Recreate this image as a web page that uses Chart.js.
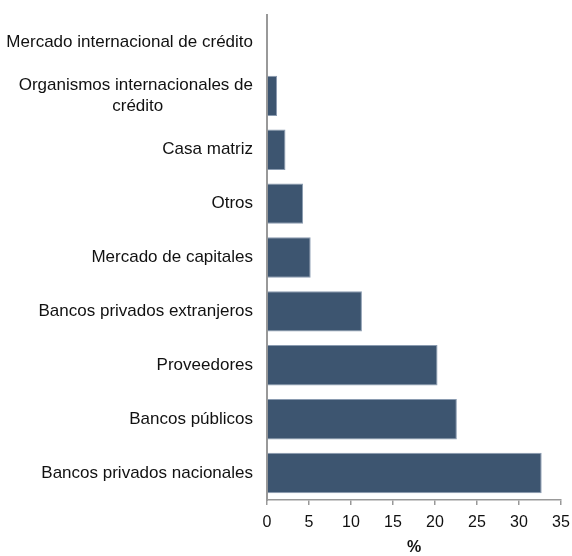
<!DOCTYPE html>
<html>
<head>
<meta charset="utf-8">
<script src="https://cdn.jsdelivr.net/npm/chart.js@4/dist/chart.umd.min.js"></script>
<style>
  html, body { margin: 0; padding: 0; background: #fff; }
  #wrap { width: 572px; height: 556px; }
</style>
</head>
<body>
<div id="wrap"><canvas id="fuentesChart" width="572" height="556"></canvas></div>
<script>
// categories, top to bottom
var categorias = [
  "Mercado internacional de crédito",
  ["Organismos internacionales de", "crédito                   "],
  "Casa matriz",
  "Otros",
  "Mercado de capitales",
  "Bancos privados extranjeros",
  "Proveedores",
  "Bancos públicos",
  "Bancos privados nacionales"
];
var porcentajes = [0, 1.2, 2.2, 4.3, 5.2, 11.3, 20.3, 22.6, 32.7];
var ejeX = { min: 0, max: 35, paso: 5 };

var ctx = document.getElementById("fuentesChart");
var chart = new Chart(ctx, {
  type: 'bar',
  data: {
    labels: categorias,
    datasets: [
      {
        label: "%",
        data: porcentajes,
        backgroundColor: "#3d5570",
        borderColor: "#8a9bb0",
        borderWidth: 1,
        barPercentage: 0.75,
        categoryPercentage: 1
      }
    ]
  },
  options: {
    indexAxis: 'y',
    responsive: false,
    animation: false,
    layout: { padding: { top: 15, right: 11, left: 5, bottom: 0 } },
    plugins: {
      legend: { display: false },
      tooltip: { enabled: false }
    },
    scales: {
      x: {
        min: ejeX.min,
        max: ejeX.max,
        ticks: { stepSize: ejeX.paso, color: "#111", font: { family: "Liberation Sans", size: 16 }, padding: 8 },
        grid: { display: true, drawOnChartArea: false, drawTicks: true, tickLength: 5, color: "#999", lineWidth: 1.5 },
        border: { color: "#999", width: 1.5 },
        title: { display: true, text: "%", color: "#111", font: { family: "Liberation Sans", size: 16, weight: 'bold', lineHeight: 1 }, padding: { top: 2, bottom: 0 } },
        afterFit: function (axis) {
          axis.height = 56;
          axis.paddingLeft = 0;
          axis.paddingRight = 0;
        }
      },
      y: {
        ticks: { color: "#111", font: { family: "Liberation Sans", size: 17 }, padding: 14, autoSkip: false },
        grid: { display: false, drawTicks: false },
        border: { color: "#999", width: 2 },
        afterFit: function (axis) {
          axis.width = 262;
          axis.paddingTop = 0;
          axis.paddingBottom = 0;
        }
      }
    }
  }
});
</script>
</body>
</html>
